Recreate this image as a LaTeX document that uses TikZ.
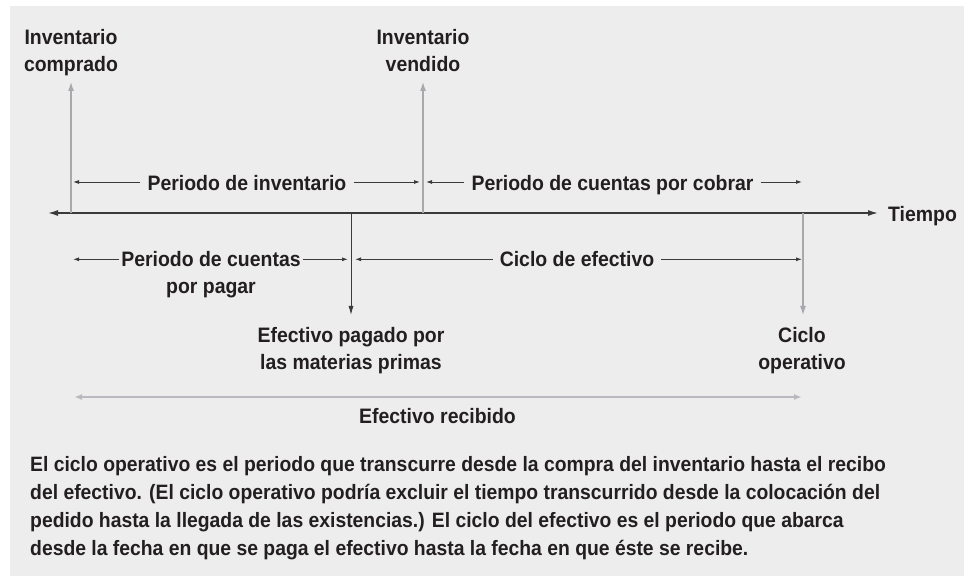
\documentclass[tikz,border=0pt]{standalone}
\usepackage{fontspec}
\setmainfont{Liberation Sans}[FakeStretch=0.93]
\usetikzlibrary{arrows.meta}
\definecolor{bgc}{HTML}{EDEDED}
\definecolor{ink}{HTML}{231F20}
\definecolor{darkln}{HTML}{3A3A3A}
\definecolor{grayln}{HTML}{A8A8AD}
\definecolor{grayarr}{HTML}{B9B9BF}
\begin{document}
\begin{tikzpicture}[x=1pt,y=-1pt,
  lbl/.style={font=\bfseries\fontsize{20.9}{27.3}\selectfont, text=ink, inner ysep=0pt, inner xsep=7pt, align=center, anchor=base},
  para/.style={font=\bfseries\fontsize{20.8}{28}\selectfont, text=ink, inner sep=0pt, align=left, anchor=base west},
  parr/.style={draw=darkln, line width=0.9pt, -{Latex[length=6pt,width=4pt]}},
  tarr/.style={draw=darkln, line width=1.4pt, {Latex[length=10pt,width=6pt]}-{Latex[length=10pt,width=6pt]}},
  garr/.style={draw=grayln, line width=1.2pt, -{Latex[length=9pt,width=6pt]}},
  darr/.style={draw=darkln, line width=1pt, -{Latex[length=9pt,width=5pt]}},
  warr/.style={draw=grayarr, line width=2.2pt, {Latex[length=8pt,width=6pt]}-{Latex[length=8pt,width=6pt]}}
]
\useasboundingbox (0,0) rectangle (964,577);
\fill[white] (0,0) rectangle (964,577);
\fill[bgc] (10,6) rectangle (964,576);

% top labels (base = last line)
\node[lbl] (ic) at (71,71.7) {Inventario\\comprado};
\node[lbl] (iv) at (423,71.7) {Inventario\\vendido};

% timeline
\coordinate (tL) at (48,213);
\coordinate (tR) at (878,213);
\node[lbl, anchor=base west, inner xsep=0pt] (tiempo) at (888,221.7) {Tiempo};
\draw[tarr] (tL) -- (tR);

% vertical arrows
\coordinate (u1) at (71,213);  \coordinate (u1t) at (71,82);
\coordinate (u2) at (423,213); \coordinate (u2t) at (423,82);
\coordinate (d1) at (351,213); \coordinate (d1t) at (351,315);
\coordinate (d2) at (803,213); \coordinate (d2t) at (803,315);
\draw[garr] (u1) -- (u1t);
\draw[garr] (u2) -- (u2t);
\draw[darr] (d1) -- (d1t);
\draw[garr] (d2) -- (d2t);

% period rows above
\node[lbl, inner xsep=7pt] (pinv) at (247,190.5) {Periodo de inventario};
\coordinate (pinvL) at (73,182); \coordinate (pinvR) at (420,182);
\draw[parr] (pinv.west |- pinvL) -- (pinvL);
\draw[parr] (pinv.east |- pinvR) -- (pinvR);

\node[lbl, inner xsep=7pt] (pcob) at (612.5,190.5) {Periodo de cuentas por cobrar};
\coordinate (pcobL) at (426,182); \coordinate (pcobR) at (802,182);
\draw[parr] (pcob.west |- pcobL) -- (pcobL);
\draw[parr] (pcob.east |- pcobR) -- (pcobR);

% period rows below
\node[lbl, inner xsep=2pt] (pcp) at (211,294) {Periodo de cuentas\\por pagar};
\coordinate (pcpL) at (73,259.3); \coordinate (pcpR) at (348,259.3);
\draw[parr] (pcp.west |- pcpL) -- (pcpL);
\draw[parr] (pcp.east |- pcpR) -- (pcpR);

\node[lbl, inner xsep=7pt] (cef) at (577,266.7) {Ciclo de efectivo};
\coordinate (cefL) at (355,259.3); \coordinate (cefR) at (802,259.3);
\draw[parr] (cef.west |- cefL) -- (cefL);
\draw[parr] (cef.east |- cefR) -- (cefR);

% bottom labels
\node[lbl] (epp) at (351,369.5) {Efectivo pagado por\\las materias primas};
\node[lbl] (cop) at (802,369.5) {Ciclo\\operativo};

% efectivo recibido
\coordinate (erL) at (74,397); \coordinate (erR) at (802,397);
\draw[warr] (erL) -- (erR);
\node[lbl] (er) at (437.5,423) {Efectivo recibido};

% paragraph (base = last line)
\node[para] (txt) at (30,555) {El ciclo operativo es el periodo que transcurre desde la compra del inventario hasta el recibo\\
del efectivo. (El ciclo operativo podría excluir el tiempo transcurrido desde la colocación del\\
pedido hasta la llegada de las existencias.) El ciclo del efectivo es el periodo que abarca\\
desde la fecha en que se paga el efectivo hasta la fecha en que éste se recibe.};
\end{tikzpicture}
\end{document}
